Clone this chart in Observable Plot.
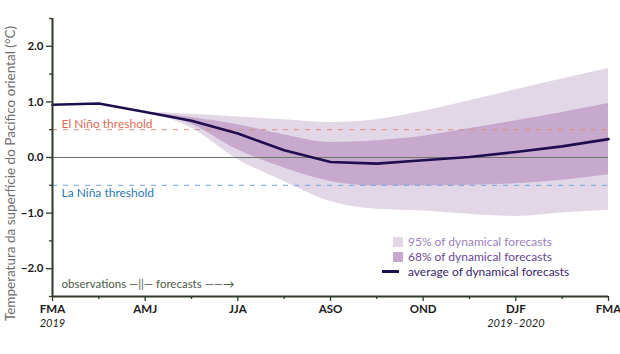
<!DOCTYPE html>
<html>
<head>
<meta charset="utf-8">
<script src="https://cdn.jsdelivr.net/npm/d3@7"></script>
<script src="https://cdn.jsdelivr.net/npm/@observablehq/plot@0.6"></script>
<style>
  body { margin: 0; background: #fff; font-family: Lato, "Open Sans", sans-serif; }
  #wrap { position: relative; width: 620px; height: 354px; }
  #legend { position: absolute; left: 382px; top: 234px; font: 12px Lato, sans-serif; line-height: 15px; }
  #legend .row { display: flex; align-items: center; height: 15px; }
  #legend .sw { width: 10px; height: 10px; margin-left: 11px; margin-right: 5px; }
  #legend .ln { width: 17px; height: 3px; margin-right: 9px; }
</style>
</head>
<body>
<div id="wrap"></div>
<script>
// ---- data ----
const seasons = ["FMA","MAM","AMJ","MJJ","JJA","JAS","ASO","SON","OND","NDJ","DJF","JFM","FMA"];
const average = [0.95, 0.97, 0.82, 0.66, 0.43, 0.13, -0.08, -0.11, -0.05, 0.01, 0.10, 0.20, 0.33];
const hi95 = [null, null, 0.82, 0.78, 0.73, 0.68, 0.63, 0.68, 0.83, 1.02, 1.22, 1.41, 1.60];
const lo95 = [null, null, 0.82, 0.53, -0.04, -0.43, -0.79, -0.93, -0.96, -1.02, -1.06, -1.00, -0.95];
const hi68 = [null, null, 0.82, 0.72, 0.59, 0.41, 0.27, 0.30, 0.38, 0.52, 0.66, 0.81, 0.97];
const lo68 = [null, null, 0.82, 0.60, 0.14, -0.19, -0.43, -0.51, -0.51, -0.50, -0.47, -0.41, -0.31];
const xMajorTicks = [0, 2, 4, 6, 8, 10, 12];
const xMinorTicks = [1, 3, 5, 7, 9, 11];
const yMajorTicks = [-2, -1, 0, 1, 2];
const yMinorTicks = [-2.5, -1.5, -0.5, 0.5, 1.5, 2.5];
const thresholds = [
  {name: "El Niño threshold", value: 0.5},
  {name: "La Niña threshold", value: -0.5}
];
const yearLabels = [{step: 0, text: "2019"}, {step: 10, text: "2019–2020"}];
const yTitle = "Temperatura da superfície do Pacífico oriental (°C)";
const phaseNote = "observations —||— forecasts ——→";
const legendItems = [
  {label: "95% of dynamical forecasts", kind: "band95"},
  {label: "68% of dynamical forecasts", kind: "band68"},
  {label: "average of dynamical forecasts", kind: "line"}
];

// ---- build tables ----
const series = seasons.map((s, i) => ({i, season: s, avg: average[i], hi95: hi95[i], lo95: lo95[i], hi68: hi68[i], lo68: lo68[i]}));
const band = series.filter(d => d.hi95 != null);

const colors = {band95: "#e2d7e7", band68: "#c6a9cd", line: "#1e0e4e", axis: "#2f3a2a"};
const fmt = d => d.toFixed(1).replace("-", "−");

const chart = Plot.plot({
  width: 620,
  height: 354,
  marginLeft: 52,
  marginRight: 12,
  marginTop: 18,
  marginBottom: 58,
  style: {fontFamily: "Lato, sans-serif", background: "#fff"},
  x: {domain: [0, 12], axis: null},
  y: {domain: [-2.5, 2.5], axis: null},
  marks: [
    Plot.areaY(band, {x: "i", y1: "lo95", y2: "hi95", fill: colors.band95, curve: "monotone-x"}),
    Plot.areaY(band, {x: "i", y1: "lo68", y2: "hi68", fill: colors.band68, curve: "monotone-x"}),
    Plot.ruleY([0], {stroke: "#6e7868", strokeWidth: 1.2}),
    Plot.ruleY(thresholds.filter(d => d.value > 0), {y: "value", stroke: "#e08a7c", strokeWidth: 1, strokeDasharray: "5,6"}),
    Plot.ruleY(thresholds.filter(d => d.value < 0), {y: "value", stroke: "#6ea4dc", strokeWidth: 1, strokeDasharray: "5,6"}),
    Plot.line(series, {x: "i", y: "avg", stroke: colors.line, strokeWidth: 2.6, curve: "linear"}),
    Plot.text(thresholds.filter(d => d.value > 0), {y: "value", text: "name", frameAnchor: "left", textAnchor: "start", dx: 9, dy: -6, fill: "#de6a55", fontSize: 12}),
    Plot.text(thresholds.filter(d => d.value < 0), {y: "value", text: "name", frameAnchor: "left", textAnchor: "start", dx: 9, dy: 8, fill: "#2b79b6", fontSize: 12}),
    Plot.text([phaseNote], {text: d => d, frameAnchor: "bottom-left", textAnchor: "start", dx: 9, dy: -9, fill: "#4d5a48", fontSize: 11.5}),
    // axes lines
    Plot.ruleX([0], {stroke: colors.axis, strokeWidth: 2}),
    Plot.ruleY([-2.5], {stroke: colors.axis, strokeWidth: 2}),
    // y axis
    Plot.axisY({ticks: yMajorTicks, tickFormat: fmt, tickSize: 6, tickPadding: 3, fontWeight: "bold", fontSize: 11.5, fill: "#1a1a1a", stroke: colors.axis, strokeWidth: 1.3, label: null}),
    Plot.axisY({ticks: yMinorTicks, tickFormat: () => "", tickSize: 3, stroke: colors.axis, strokeWidth: 1.3, label: null}),
    // x axis
    Plot.axisX({ticks: xMajorTicks, tickFormat: d => seasons[d], tickSize: 5, tickPadding: 3, fontWeight: "bold", fontSize: 11.5, fill: "#1a1a1a", stroke: colors.axis, strokeWidth: 1.3, label: null}),
    Plot.axisX({ticks: xMinorTicks, tickFormat: () => "", tickSize: 3, stroke: colors.axis, strokeWidth: 1.3, label: null}),
    Plot.text(yearLabels, {x: "step", text: "text", frameAnchor: "bottom", dy: 30, fontStyle: "italic", fontSize: 11, fill: "#1a1a1a"}),
    Plot.text([yTitle], {text: d => d, frameAnchor: "left", textAnchor: "middle", rotate: -90, dx: -42, dy: 16, fill: "#6d6d6d", fontSize: 13.5})
  ]
});

const wrap = document.getElementById("wrap");
wrap.appendChild(chart);

// legend
const legend = document.createElement("div");
legend.id = "legend";
const textColors = {band95: "#9b82bd", band68: "#6a4894", line: "#3a1e6c"};
for (const item of legendItems) {
  const row = document.createElement("div");
  row.className = "row";
  const mark = document.createElement("span");
  if (item.kind === "line") {
    mark.className = "ln";
    mark.style.background = colors.line;
  } else {
    mark.className = "sw";
    mark.style.background = colors[item.kind];
  }
  const t = document.createElement("span");
  t.textContent = item.label;
  t.style.color = textColors[item.kind];
  row.appendChild(mark);
  row.appendChild(t);
  legend.appendChild(row);
}
wrap.appendChild(legend);
</script>
</body>
</html>
